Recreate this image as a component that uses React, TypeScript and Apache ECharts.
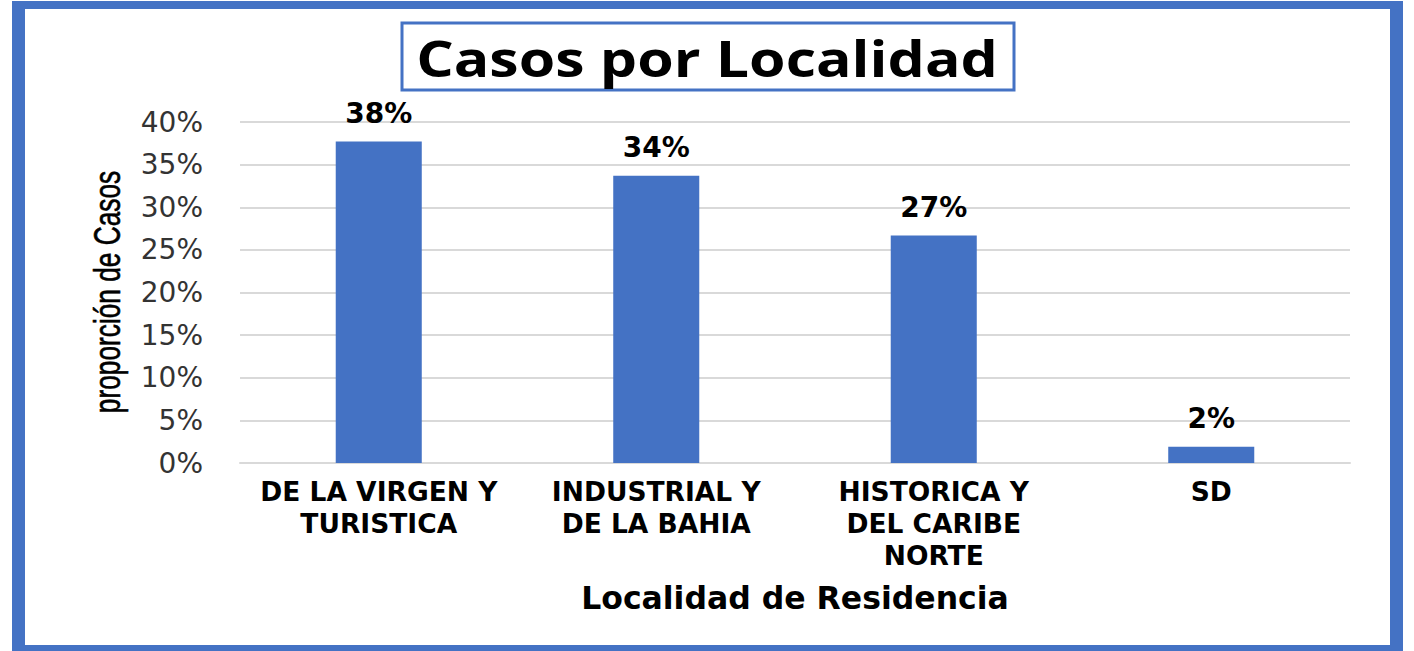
import React, { useEffect, useRef } from "react";
import * as echarts from "echarts";

const categories = [
  "DE LA VIRGEN Y\nTURISTICA",
  "INDUSTRIAL Y\nDE LA BAHIA",
  "HISTORICA Y\nDEL CARIBE\nNORTE",
  "SD",
];
const values = [37.7, 33.7, 26.7, 1.9];
const labels = ["38%", "34%", "27%", "2%"];
const yMin = 0;
const yMax = 40;
const yInterval = 5;

const BLUE = "#4472C4";
const FONT = "'DejaVu Sans', 'Liberation Sans', Arial, sans-serif";

export default function App() {
  const ref = useRef<HTMLDivElement>(null);
  useEffect(() => {
    if (!ref.current) return;
    const chart = echarts.init(ref.current, null, { renderer: "svg" });
    chart.setOption({
      animation: false,
      backgroundColor: "#ffffff",
      grid: { left: 240, right: 64, top: 122, bottom: 188 },
      xAxis: {
        type: "category",
        data: categories,
        axisTick: { show: false },
        axisLine: { lineStyle: { color: "#d9d9d9", width: 2 } },
        axisLabel: {
          interval: 0,
          hideOverlap: false,
          margin: 12,
          color: "#000000",
          fontFamily: FONT,
          fontWeight: "bold",
          fontSize: 26.5,
          lineHeight: 32,
        },
        name: "Localidad de Residencia",
        nameLocation: "middle",
        nameGap: 119,
        nameTextStyle: {
          color: "#000000",
          fontFamily: FONT,
          fontWeight: "bold",
          fontSize: 31.5,
        },
      },
      yAxis: {
        type: "value",
        min: yMin,
        max: yMax,
        interval: yInterval,
        axisLine: { show: false },
        axisTick: { show: false },
        splitLine: { lineStyle: { color: "#d9d9d9", width: 2 } },
        axisLabel: {
          formatter: "{value}%",
          margin: 37,
          color: "#333333",
          fontFamily: FONT,
          fontSize: 28,
        },
      },
      series: [
        {
          type: "bar",
          data: values,
          barWidth: "31%",
          itemStyle: { color: BLUE },
          label: {
            show: true,
            position: "top",
            distance: 14,
            formatter: (p: any) => labels[p.dataIndex],
            color: "#000000",
            fontFamily: FONT,
            fontWeight: "bold",
            fontSize: 28,
          },
        },
      ],
      graphic: [
        { type: "rect", shape: { x: 12, y: 1, width: 13, height: 650 }, style: { fill: BLUE }, silent: true },
        { type: "rect", shape: { x: 12, y: 1, width: 1391, height: 8 }, style: { fill: BLUE }, silent: true },
        { type: "rect", shape: { x: 1390, y: 1, width: 13, height: 650 }, style: { fill: BLUE }, silent: true },
        { type: "rect", shape: { x: 12, y: 645, width: 1391, height: 6 }, style: { fill: BLUE }, silent: true },
        {
          type: "rect",
          shape: { x: 402, y: 23, width: 612, height: 67 },
          style: { fill: "#ffffff", stroke: BLUE, lineWidth: 3 },
          silent: true,
        },
        {
          type: "text",
          x: 707,
          y: 58,
          scaleX: 1.18,
          style: {
            text: "Casos por Localidad",
            fill: "#000000",
            font: "bold 50px 'Open Sans', 'Noto Sans', sans-serif",
            align: "center",
            verticalAlign: "middle",
          },
          silent: true,
        },
        {
          type: "text",
          x: 107,
          y: 292,
          rotation: Math.PI / 2,
          scaleX: 0.73,
          style: {
            text: "proporción de Casos",
            fill: "#000000",
            font: "36px 'Liberation Sans', Arial, sans-serif",
            align: "center",
            verticalAlign: "middle",
            stroke: "#000000",
            lineWidth: 0.6,
          },
          silent: true,
        },
      ],
    });
    return () => chart.dispose();
  }, []);
  return (
    <div
      ref={ref}
      style={{ position: "absolute", left: 0, top: 0, width: 1414, height: 651 }}
    />
  );
}
